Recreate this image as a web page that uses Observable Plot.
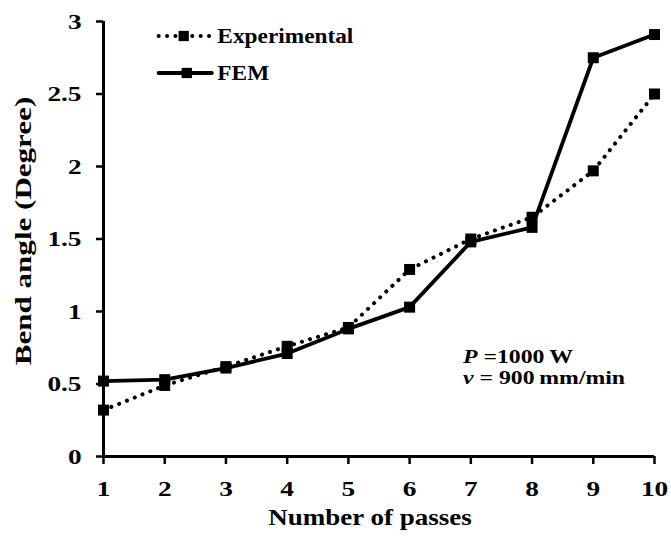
<!DOCTYPE html>
<html>
<head>
<meta charset="utf-8">
<script src="https://cdn.jsdelivr.net/npm/d3@7"></script>
<script src="https://cdn.jsdelivr.net/npm/@observablehq/plot@0.6"></script>
<style>
  html, body { margin: 0; padding: 0; background: #fff; }
  #chart svg { display: block; }
</style>
</head>
<body>
<div id="chart"></div>
<script>
const passes = [1, 2, 3, 4, 5, 6, 7, 8, 9, 10];
const experimental = [0.32, 0.49, 0.62, 0.76, 0.89, 1.29, 1.50, 1.65, 1.97, 2.50];
const fem = [0.52, 0.53, 0.61, 0.71, 0.88, 1.03, 1.48, 1.58, 2.75, 2.91];
const yTicks = [0, 0.5, 1, 1.5, 2, 2.5, 3];
const xTicks = [1, 2, 3, 4, 5, 6, 7, 8, 9, 10];
const seriesNames = ["Experimental", "FEM"];
const xLabel = "Number of passes";
const yLabel = "Bend angle (Degree)";
const annoLine1 = [["P", true], [" =1000\u2009W", false]];
const annoLine2 = [["v", true], [" = 900\u2009mm/min", false]];

const expData = passes.map((p, i) => ({x: p, y: experimental[i]}));
const femData = passes.map((p, i) => ({x: p, y: fem[i]}));

const font = "'Liberation Serif', 'Times New Roman', serif";
const dotted = {stroke: "#000", strokeWidth: 4, strokeDasharray: "0.1,8.3", strokeLinecap: "round"};
const solid = {stroke: "#000", strokeWidth: 3.8};

const chart = Plot.plot({
  width: 671,
  height: 539,
  marginLeft: 103,
  marginRight: 17,
  marginTop: 21,
  marginBottom: 83,
  style: {fontFamily: font, fontWeight: "bold", color: "#000", background: "#fff"},
  x: {domain: [1, 10]},
  y: {domain: [0, 3]},
  marks: [
    Plot.axisX(xTicks, {tickSize: 8, tickPadding: 16, fontSize: 22, fontWeight: "bold", strokeWidth: 2.5, label: null}),
    Plot.axisY(yTicks, {tickSize: 7, tickPadding: 15, fontSize: 22, fontWeight: "bold", strokeWidth: 2.5, tickFormat: d => String(d), label: null}),
    Plot.ruleY([0], {strokeWidth: 3}),
    Plot.ruleX([1], {strokeWidth: 3}),
    Plot.text([xLabel], {frameAnchor: "bottom", dy: 68, dx: -9, fontSize: 22.5, fontWeight: "bold"}),
    Plot.text([yLabel], {frameAnchor: "left", textAnchor: "middle", dx: -80, dy: -8, rotate: -90, fontSize: 23, fontWeight: "bold"}),
    Plot.line(expData, {x: "x", y: "y", ...dotted}),
    Plot.line(femData, {x: "x", y: "y", ...solid}),
    Plot.dot(expData, {x: "x", y: "y", symbol: "square", r: 6.2, fill: "#000", stroke: null}),
    Plot.dot(femData, {x: "x", y: "y", symbol: "square", r: 6.2, fill: "#000", stroke: null}),
    // legend
    Plot.line([{x: 1.90, y: 2.90}, {x: 2.75, y: 2.90}], {x: "x", y: "y", ...dotted}),
    Plot.dot([{x: 2.31, y: 2.90}], {x: "x", y: "y", symbol: "square", r: 5.8, fill: "#000", stroke: null}),
    Plot.text([{x: 2.86, y: 2.90, t: seriesNames[0]}], {x: "x", y: "y", text: "t", textAnchor: "start", fontSize: 21, fontWeight: "bold"}),
    Plot.line([{x: 1.90, y: 2.645}, {x: 2.77, y: 2.645}], {x: "x", y: "y", ...solid}),
    Plot.dot([{x: 2.36, y: 2.645}], {x: "x", y: "y", symbol: "square", r: 5.8, fill: "#000", stroke: null}),
    Plot.text([{x: 2.86, y: 2.645, t: seriesNames[1]}], {x: "x", y: "y", text: "t", textAnchor: "start", fontSize: 21, fontWeight: "bold"})
  ]
});

document.getElementById("chart").appendChild(chart);

// annotation text placed through the chart's scales
const xs = chart.scale("x"), ys = chart.scale("y");
const ns = "http://www.w3.org/2000/svg";
function addAnno(parts, xv, yv) {
  const t = document.createElementNS(ns, "text");
  t.setAttribute("x", xs.apply(xv));
  t.setAttribute("y", ys.apply(yv));
  t.setAttribute("font-size", "19");
  t.setAttribute("font-weight", "bold");
  t.setAttribute("font-family", font);
  t.setAttribute("text-anchor", "start");
  t.setAttribute("dy", "0.35em");
  t.setAttribute("class", "anno");
  parts.forEach(([s, italic]) => {
    const ts = document.createElementNS(ns, "tspan");
    ts.textContent = s;
    if (italic) ts.setAttribute("font-style", "italic");
    t.appendChild(ts);
  });
  chart.appendChild(t);
}
addAnno(annoLine1, 6.88, 0.69);
addAnno(annoLine2, 6.88, 0.545);

// widen glyphs to match the reference's wide bold serif lettering
function stretchEl(t, k) {
  const len = t.getComputedTextLength();
  if (len > 0) {
    t.setAttribute("textLength", len * k);
    t.setAttribute("lengthAdjust", "spacingAndGlyphs");
  }
}
chart.querySelectorAll('g[aria-label="x-axis tick label"] text, g[aria-label="y-axis tick label"] text')
  .forEach(t => stretchEl(t, 1.24));
chart.querySelectorAll("text").forEach(t => {
  const s = t.textContent;
  if (s === xLabel) stretchEl(t, 1.2);
  else if (s === yLabel) stretchEl(t, 1.35);
  else if (seriesNames.includes(s)) stretchEl(t, 1.11);
});
chart.querySelectorAll("text.anno").forEach(t => stretchEl(t, 1.25));
</script>
</body>
</html>
